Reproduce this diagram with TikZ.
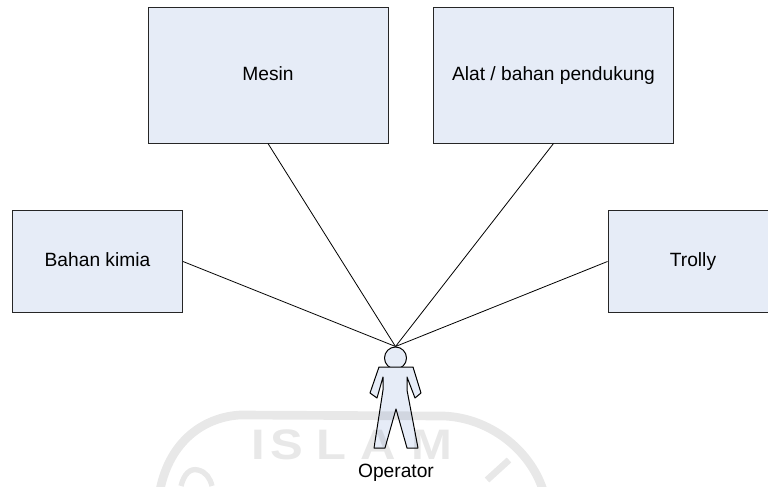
\documentclass[tikz,border=0pt]{standalone}
\usepackage{fontspec}
\setmainfont{Liberation Sans}
\definecolor{boxfill}{HTML}{E6ECF7}
\begin{document}
\begin{tikzpicture}[x=.75pt, y=-.75pt,
  font=\fontsize{14.4}{16}\selectfont,
  box/.style={draw=black!85, fill=boxfill, line width=.75pt, inner sep=0pt, text height=11pt, text depth=2.8pt},
  bigbox/.style={box, minimum width=180pt, minimum height=102pt},
  sidebox/.style={box, minimum width=127.5pt, minimum height=76.5pt},
  link/.style={black, line width=.6pt},
  man/.style={draw=black, fill=boxfill, line width=.75pt, line join=round}]
\clip (0,0) rectangle (768,486);
\node[bigbox] (mesin) at (268,75) {Mesin};
\node[bigbox] (alat) at (553.5,75) {Alat / bahan pendukung};
\node[sidebox] (kimia) at (97.5,261.5) {Bahan kimia};
\node[sidebox] (trolly) at (693,261.5) {Trolly};
% operator
\node[man, circle, minimum size=16.5pt, inner sep=0pt] (head) at (395.5,358) {};
\draw[man](379,367)--(413,367)--(421,393)--(415,398)--(407,377)--(407,390)--(418,448)--(407,448)--(396,409)--(385,448)--(374,448)--(383,390)--(383,377)--(377,398)--(370,393)--cycle;
\node (operator) at (396,472.5) {Operator};
\draw[link](mesin.south)--(head.north);
\draw[link](alat.south)--(head.north);
\draw[link](kimia.east)--(head.north);
\draw[link](trolly.west)--(head.north);
% watermark
\begin{scope}[black, opacity=.09]
\draw[line width=6.5pt](160,490)..controls(170,440)and(205,417)..(240,415)--(444,416)..controls(490,418)and(530,450)..(543,490);
\draw[line width=5pt](509,460)--(487,480);
\draw[line width=4pt](181,486)..controls(184,474)and(190,468)..(198,470)..controls(206,472)and(210,478)..(212,486);
\foreach \c/\x in {I/258,S/287,L/331,A/378,M/432}
  \node[font=\fontsize{32}{34}\selectfont\bfseries, inner sep=0pt] (wm\c) at (\x,445) {\scalebox{1.15}[1]{\c}};
\end{scope}
\end{tikzpicture}
\end{document}
